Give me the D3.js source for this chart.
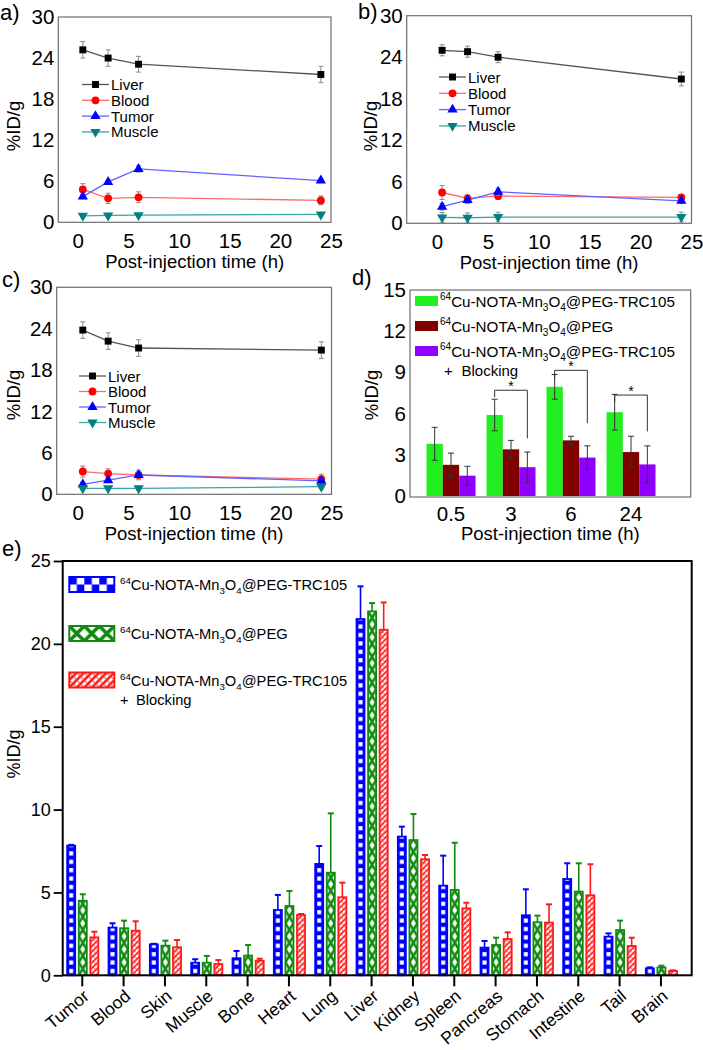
<!DOCTYPE html>
<html><head><meta charset="utf-8">
<script src="https://cdn.jsdelivr.net/npm/d3@7"></script>
<style>body{margin:0;background:#fff}svg{display:block;font-family:Arial,"Liberation Sans",sans-serif}</style>
</head><body><svg id="c" width="703" height="1050"></svg>
<script>
// ---------------- DATA ----------------
const times = [0.5, 3, 6, 24];
const lineSeries = ["Liver", "Blood", "Tumor", "Muscle"];
const lineYTicks = [0, 6, 12, 18, 24, 30];
const lineXTicks = [0, 5, 10, 15, 20, 25];

const aLiver = [25.2, 24.0, 23.1, 21.6],  aLiverErr = [1.2, 1.2, 1.15, 1.2];
const aBlood = [4.8, 3.5, 3.65, 3.2],     aBloodErr = [0.85, 0.75, 0.8, 0.65];
const aTumor = [3.75, 5.9, 7.8, 6.1],     aTumorErr = [0.3, 0.3, 0.45, 0.3];
const aMuscle = [0.95, 1.0, 1.05, 1.15],  aMuscleErr = [0.2, 0.2, 0.2, 0.2];

const bLiver = [25.0, 24.8, 24.0, 20.85], bLiverErr = [0.8, 0.8, 0.8, 1.0];
const bBlood = [4.45, 3.6, 3.95, 3.75],   bBloodErr = [1.0, 0.5, 0.5, 0.4];
const bTumor = [2.4, 3.35, 4.55, 3.25],   bTumorErr = [0.5, 0.5, 0.5, 0.4];
const bMuscle = [0.85, 0.8, 0.9, 0.9],    bMuscleErr = [0.7, 0.7, 0.7, 0.7];

const cLiver = [23.8, 22.2, 21.2, 20.9],  cLiverErr = [1.2, 1.2, 1.2, 1.2];
const cBlood = [3.3, 3.0, 2.8, 2.2],      cBloodErr = [0.8, 0.7, 0.7, 0.7];
const cTumor = [1.45, 2.05, 2.8, 1.95],   cTumorErr = [0.3, 0.3, 0.3, 0.3];
const cMuscle = [0.87, 0.87, 0.87, 1.1],  cMuscleErr = [0.2, 0.2, 0.2, 0.3];

const dGroups = ["0.5", "3", "6", "24"];
const dYTicks = [0, 3, 6, 9, 12, 15];
const dTargeted = [3.8, 5.9, 7.95, 6.1],     dTargetedErr = [1.2, 1.15, 0.9, 1.3];
const dNonTargeted = [2.27, 3.4, 4.05, 3.2], dNonTargetedErr = [0.85, 0.65, 0.3, 1.15];
const dBlocking = [1.48, 2.1, 2.8, 2.3],     dBlockingErr = [0.68, 1.1, 0.85, 1.35];
const sigGroups = ["3", "6", "24"];
const sigTop = [7.7, 9.15, 7.35], sigLeftEnd = [7.2, 8.55, 6.85], sigRightEnd = [4.2, 5.3, 4.7];

const legendLabels = ["^{64}Cu-NOTA-Mn_{3}O_{4}@PEG-TRC105", "^{64}Cu-NOTA-Mn_{3}O_{4}@PEG", "^{64}Cu-NOTA-Mn_{3}O_{4}@PEG-TRC105"];

const organs = ["Tumor","Blood","Skin","Muscle","Bone","Heart","Lung","Liver","Kidney","Spleen","Pancreas","Stomach","Intestine","Tail","Brain"];
const eYTicks = [0, 5, 10, 15, 20, 25];
const eTargeted =       [7.82, 2.88, 1.87, 0.76, 1.03, 3.94, 6.72, 21.5, 8.37, 5.41, 1.67, 3.62, 5.81, 2.33, 0.42];
const eTargetedErr =    [0.05, 0.26, 0.03, 0.21, 0.44, 0.91, 1.08, 1.97, 0.6, 1.81, 0.4, 1.57, 0.95, 0.2, 0.06];
const eNonTargeted =    [4.5, 2.84, 1.79, 0.76, 1.19, 4.18, 6.19, 21.96, 8.16, 5.15, 1.83, 3.2, 5.05, 2.73, 0.48];
const eNonTargetedErr = [0.39, 0.46, 0.3, 0.41, 0.64, 0.91, 3.58, 0.5, 1.57, 2.85, 0.44, 0.4, 1.71, 0.57, 0.1];
const eBlocking =       [2.29, 2.69, 1.69, 0.68, 0.88, 3.64, 4.71, 20.85, 7.0, 4.04, 2.19, 3.18, 4.83, 1.77, 0.26];
const eBlockingErr =    [0.34, 0.57, 0.44, 0.24, 0.12, 0.06, 0.88, 1.65, 0.26, 0.34, 0.4, 1.1, 1.87, 0.5, 0.04];

// ---------------- HELPERS ----------------
const svg = d3.select("#c");
svg.append("rect").attr("width", 703).attr("height", 1050).attr("fill", "#fff");
const defs = svg.append("defs");

function richText(sel, str, fs) {
  const parts = str.split(/(\^\{[^}]*\}|_\{[^}]*\})/).filter(s => s.length);
  let shift = 0;
  parts.forEach(p => {
    let txt = p, target = 0, size = fs;
    if (p.startsWith("^{")) { txt = p.slice(2, -1); target = -0.4 * fs; size = fs * 0.66; }
    else if (p.startsWith("_{")) { txt = p.slice(2, -1); target = 0.28 * fs; size = fs * 0.66; }
    sel.append("tspan").attr("dy", target - shift).attr("font-size", size).text(txt);
    shift = target;
  });
}

const styles = {
  Liver:  { color: "#000", line: "#555", sym: d3.symbolSquare, size: 48, rot: 0 },
  Blood:  { color: "#f00", line: "#ff6a6a", sym: d3.symbolCircle, size: 48, rot: 0 },
  Tumor:  { color: "#00f", line: "#6262ff", sym: d3.symbolTriangle, size: 46, rot: 0 },
  Muscle: { color: "#008080", line: "#3aa5a5", sym: d3.symbolTriangle, size: 46, rot: 180 }
};

function linePanel(cfg) {
  const x = d3.scaleLinear().domain(cfg.xDomain).range([cfg.left, cfg.right]);
  const y = d3.scaleLinear().domain([0, 30]).range([cfg.bottom, cfg.top]);
  const g = svg.append("g");
  g.append("rect").attr("x", cfg.left).attr("y", cfg.top)
    .attr("width", cfg.right - cfg.left).attr("height", cfg.bottom - cfg.top)
    .attr("fill", "none").attr("stroke", "#6e6e6e").attr("stroke-width", 1.2);
  const ya = g.append("g").attr("transform", `translate(${cfg.left},0)`)
    .call(d3.axisLeft(y).tickValues(lineYTicks).tickSize(0).tickPadding(4));
  ya.select(".domain").remove();
  ya.attr("font-family", null).attr("font-size", 20.5);
  const xa = g.append("g").attr("transform", `translate(0,${cfg.bottom})`)
    .call(d3.axisBottom(x).tickValues(lineXTicks).tickSize(0).tickPadding(cfg.xPad));
  xa.select(".domain").remove();
  xa.attr("font-family", null).attr("font-size", 20.5);
  g.append("text").attr("x", (cfg.left + cfg.right) / 2).attr("y", cfg.titleY)
    .attr("text-anchor", "middle").attr("font-size", 18.5).text("Post-injection time (h)");
  g.append("text").attr("transform", `translate(${cfg.yTitleX},${cfg.yTitleCY}) rotate(-90)`)
    .attr("text-anchor", "middle").attr("font-size", 18.5).text("%ID/g");
  g.append("text").attr("x", cfg.labelX).attr("y", cfg.labelY).attr("font-size", 22).text(cfg.label);

  cfg.series.forEach(s => {
    const st = styles[s.name];
    const pts = times.map((t, i) => ({ t, v: s.values[i], e: s.errors[i] }));
    g.append("path").datum(pts).attr("fill", "none").attr("stroke", st.line).attr("stroke-width", 1.3)
      .attr("d", d3.line().x(d => x(d.t)).y(d => y(d.v)));
    const eb = g.append("g").attr("stroke", "#8a8a8a").attr("stroke-width", 1);
    pts.forEach(d => {
      eb.append("line").attr("x1", x(d.t)).attr("x2", x(d.t)).attr("y1", y(d.v - d.e)).attr("y2", y(d.v + d.e));
      [d.v - d.e, d.v + d.e].forEach(v => eb.append("line").attr("x1", x(d.t) - 2.5).attr("x2", x(d.t) + 2.5).attr("y1", y(v)).attr("y2", y(v)));
    });
    g.selectAll(null).data(pts).enter().append("path")
      .attr("d", d3.symbol().type(st.sym).size(st.size))
      .attr("transform", d => `translate(${x(d.t)},${y(d.v)}) rotate(${st.rot})`)
      .attr("fill", st.color);
  });
  lineSeries.forEach((name, i) => {
    const st = styles[name];
    const yy = cfg.legY + i * cfg.legStep;
    g.append("line").attr("x1", cfg.legX).attr("x2", cfg.legX + 27).attr("y1", yy).attr("y2", yy)
      .attr("stroke", st.line).attr("stroke-width", 1.3);
    g.append("path").attr("d", d3.symbol().type(st.sym).size(st.size))
      .attr("transform", `translate(${cfg.legX + 13.5},${yy}) rotate(${st.rot})`).attr("fill", st.color);
    g.append("text").attr("x", cfg.legX + 29).attr("y", yy + 5.5).attr("font-size", 15).text(name);
  });
}

linePanel({ left: 58.3, right: 331, top: 17, bottom: 222.3, xDomain: [-1.92, 25], xPad: 11,
  titleY: 268, yTitleX: 20, yTitleCY: 126, label: "a)", labelX: 0, labelY: 20,
  legX: 82, legY: 84.5, legStep: 15.8,
  series: [{ name: "Liver", values: aLiver, errors: aLiverErr }, { name: "Blood", values: aBlood, errors: aBloodErr },
           { name: "Tumor", values: aTumor, errors: aTumorErr }, { name: "Muscle", values: aMuscle, errors: aMuscleErr }] });
linePanel({ left: 406.7, right: 691.5, top: 15.7, bottom: 223.3, xDomain: [-2.98, 25], xPad: 11,
  titleY: 269, yTitleX: 377, yTitleCY: 126, label: "b)", labelX: 358, labelY: 19,
  legX: 439, legY: 77, legStep: 16.3,
  series: [{ name: "Liver", values: bLiver, errors: bLiverErr }, { name: "Blood", values: bBlood, errors: bBloodErr },
           { name: "Tumor", values: bTumor, errors: bTumorErr }, { name: "Muscle", values: bMuscle, errors: bMuscleErr }] });
linePanel({ left: 56.7, right: 331.5, top: 287.3, bottom: 494.3, xDomain: [-2.07, 25], xPad: 11,
  titleY: 540, yTitleX: 20, yTitleCY: 395, label: "c)", labelX: 2, labelY: 287,
  legX: 79, legY: 376, legStep: 15.5,
  series: [{ name: "Liver", values: cLiver, errors: cLiverErr }, { name: "Blood", values: cBlood, errors: cBloodErr },
           { name: "Tumor", values: cTumor, errors: cTumorErr }, { name: "Muscle", values: cMuscle, errors: cMuscleErr }] });

// ---------------- PANEL D ----------------
(function () {
  const L = 410, R = 690.7, T = 290, B = 497;
  const x = d3.scaleBand().domain(dGroups).range([421, 661]);
  const xs = d3.scaleBand().domain([0, 1, 2]).range([-24.5, 24.5]);
  const y = d3.scaleLinear().domain([0, 15]).range([496, 290]);
  const g = svg.append("g");
  const colors = ["#22ee22", "#800000", "#8f00ff"];
  const vals = [dTargeted, dNonTargeted, dBlocking];
  const errs = [dTargetedErr, dNonTargetedErr, dBlockingErr];
  vals.forEach((arr, si) => {
    g.selectAll(null).data(arr).enter().append("rect")
      .attr("x", (d, i) => x(dGroups[i]) + x.bandwidth() / 2 + xs(si))
      .attr("width", xs.bandwidth()).attr("y", d => y(d)).attr("height", d => y(0) - y(d))
      .attr("fill", colors[si]);
  });
  const eb = g.append("g").attr("stroke", "#333").attr("stroke-width", 1);
  vals.forEach((arr, si) => arr.forEach((v, i) => {
    const cx = x(dGroups[i]) + x.bandwidth() / 2 + xs(si) + xs.bandwidth() / 2;
    const e = errs[si][i];
    eb.append("line").attr("x1", cx).attr("x2", cx).attr("y1", y(v - e)).attr("y2", y(v + e));
    [v - e, v + e].forEach(vv => eb.append("line").attr("x1", cx - 3).attr("x2", cx + 3).attr("y1", y(vv)).attr("y2", y(vv)));
  }));
  sigGroups.forEach((grp, k) => {
    const c0 = x(grp) + x.bandwidth() / 2 + xs(0) + xs.bandwidth() / 2;
    const c2 = x(grp) + x.bandwidth() / 2 + xs(2) + xs.bandwidth() / 2;
    g.append("path").attr("fill", "none").attr("stroke", "#333").attr("stroke-width", 1)
      .attr("d", `M${c0},${y(sigLeftEnd[k])}V${y(sigTop[k])}H${c2}V${y(sigRightEnd[k])}`);
    g.append("text").attr("x", (c0 + c2) / 2).attr("y", y(sigTop[k]) + 1).attr("text-anchor", "middle")
      .attr("font-size", 14).text("*");
  });
  g.append("rect").attr("x", L).attr("y", T).attr("width", R - L).attr("height", B - T)
    .attr("fill", "none").attr("stroke", "#6e6e6e").attr("stroke-width", 1.2);
  const ya = g.append("g").attr("transform", `translate(${L},0)`)
    .call(d3.axisLeft(y).tickValues(dYTicks).tickSize(0).tickPadding(4));
  ya.select(".domain").remove();
  ya.attr("font-family", null).attr("font-size", 20.5);
  const xa = g.append("g").attr("transform", `translate(0,${B})`)
    .call(d3.axisBottom(x).tickSize(0).tickPadding(9));
  xa.select(".domain").remove();
  xa.attr("font-family", null).attr("font-size", 20.5);
  g.append("text").attr("x", (L + R) / 2).attr("y", 540).attr("text-anchor", "middle").attr("font-size", 18.5).text("Post-injection time (h)");
  g.append("text").attr("transform", `translate(378,395) rotate(-90)`).attr("text-anchor", "middle").attr("font-size", 18.5).text("%ID/g");
  g.append("text").attr("x", 352).attr("y", 285).attr("font-size", 22).text("d)");
  const legY = [301, 326, 351];
  legendLabels.forEach((lab, i) => {
    g.append("rect").attr("x", 415).attr("y", legY[i] - 5).attr("width", 23).attr("height", 10).attr("fill", colors[i]);
    const t = g.append("text").attr("x", 440).attr("y", legY[i] + 5.5).attr("font-size", 15.2);
    richText(t, lab, 15.2);
  });
  g.append("text").attr("x", 444).attr("y", 375.5).attr("font-size", 15).text("+");
  g.append("text").attr("x", 461.5).attr("y", 375.5).attr("font-size", 15).text("Blocking");
})();

// ---------------- PANEL E ----------------
(function () {
  const L = 62.7, R = 691.7, T = 561, B = 975.3;
  const x = d3.scaleBand().domain(organs).range([61.6, 681.6]);
  const xs = d3.scaleBand().domain([0, 1, 2]).range([-16, 17]).paddingInner(0.15);
  const y = d3.scaleLinear().domain([0, 25]).range([B, T]);
  const g = svg.append("g");
  const colors = ["#0000ff", "#108a10", "#ff1a1a"];
  const vals = [eTargeted, eNonTargeted, eBlocking];
  const errs = [eTargetedErr, eNonTargetedErr, eBlockingErr];
  const sw = 1.8;
  const bw = xs.bandwidth() - sw;

  function makePattern(id, px, py, w, h, kind, color, big) {
    const p = defs.append("pattern").attr("id", id).attr("patternUnits", "userSpaceOnUse")
      .attr("x", px).attr("y", py).attr("width", w).attr("height", h);
    if (kind === 0) {
      if (big) {
        p.append("rect").attr("width", w).attr("height", h).attr("fill", "#fff");
        p.append("rect").attr("width", w / 2).attr("height", h / 2).attr("fill", color);
        p.append("rect").attr("x", w / 2).attr("y", h / 2).attr("width", w / 2).attr("height", h / 2).attr("fill", color);
      } else {
        p.append("rect").attr("width", w).attr("height", h).attr("fill", color);
        p.append("rect").attr("x", w / 2 - 2).attr("y", 2).attr("width", 4).attr("height", 4.2).attr("fill", "#fff");
      }
    } else if (kind === 1) {
      p.append("rect").attr("width", w).attr("height", h).attr("fill", "#fff");
      p.append("path").attr("d", `M0,0L${w},${h}M${w},0L0,${h}`).attr("stroke", color).attr("stroke-width", big ? 3.6 : 2.6);
    } else {
      p.append("rect").attr("width", w).attr("height", h).attr("fill", "#fff");
      p.append("path").attr("d", `M0,${h}L${w},0M${-w / 2},${h / 2}L${w / 2},${-h / 2}M${w / 2},${h * 1.5}L${w * 1.5},${h / 2}`)
        .attr("stroke", color).attr("stroke-width", big ? 2.6 : 1.7);
      p.append("path").attr("d", `M0,0L${w},${h}`).attr("stroke", color).attr("stroke-width", big ? 0.9 : 0.7);
    }
  }

  vals.forEach((arr, si) => {
    arr.forEach((v, i) => {
      const cx = x(organs[i]) + x.bandwidth() / 2 + xs(si) + xs.bandwidth() / 2;
      const x0 = cx - bw / 2;
      const id = `pat-${si}-${i}`;
      const ph = si === 0 ? 8.4 : si === 1 ? 13 : 5.5;
      const pw = si === 2 ? 5.5 : bw;
      makePattern(id, x0, B, pw, ph, si, colors[si], false);
      g.append("rect").attr("x", x0).attr("width", bw).attr("y", y(v)).attr("height", y(0) - y(v))
        .attr("fill", `url(#${id})`).attr("stroke", colors[si]).attr("stroke-width", sw);
      const e = errs[si][i];
      g.append("line").attr("x1", cx).attr("x2", cx).attr("y1", y(v)).attr("y2", y(v + e))
        .attr("stroke", colors[si]).attr("stroke-width", 1.6);
      g.append("line").attr("x1", cx - 3).attr("x2", cx + 3).attr("y1", y(v + e)).attr("y2", y(v + e))
        .attr("stroke", colors[si]).attr("stroke-width", 2);
    });
  });

  g.append("rect").attr("x", L).attr("y", T).attr("width", R - L).attr("height", B - T)
    .attr("fill", "none").attr("stroke", "#000").attr("stroke-width", 2);
  const ya = g.append("g").attr("transform", `translate(${L},0)`)
    .call(d3.axisLeft(y).tickValues(eYTicks).tickSize(9).tickPadding(3));
  ya.select(".domain").remove();
  ya.selectAll("line").attr("stroke-width", 1.8);
  ya.attr("font-family", null).attr("font-size", 18);
  const xa = g.append("g").attr("transform", `translate(0,${B})`)
    .call(d3.axisBottom(x).tickSize(11).tickFormat(""));
  xa.select(".domain").remove();
  xa.selectAll("line").attr("stroke-width", 2);
  g.selectAll(null).data(organs).enter().append("text")
    .attr("transform", d => `translate(${x(d) + x.bandwidth() / 2 + 8},${998}) rotate(-40)`)
    .attr("text-anchor", "end").attr("font-size", 17.5).text(d => d);
  g.append("text").attr("transform", `translate(20,754) rotate(-90)`).attr("text-anchor", "middle").attr("font-size", 18).text("%ID/g");
  g.append("text").attr("x", 2).attr("y", 556).attr("font-size", 22).text("e)");

  const legY = [584.5, 633.5, 680];
  legY.forEach((ly, i) => {
    const bx = 69.3, by = ly - 7.5, w = 45, h = 15;
    const id = `leg-${i}`;
    if (i === 0) makePattern(id, bx, by, 15, 15, 0, colors[0], true);
    if (i === 1) makePattern(id, bx, by, 15, 15, 1, colors[1], true);
    if (i === 2) makePattern(id, bx, by, 7.5, 7.5, 2, colors[2], true);
    g.append("rect").attr("x", bx).attr("y", by).attr("width", w).attr("height", h)
      .attr("fill", `url(#${id})`).attr("stroke", colors[i]).attr("stroke-width", 2);
    const t = g.append("text").attr("x", 120).attr("y", ly + 5.5).attr("font-size", 14.7);
    richText(t, legendLabels[i], 14.7);
  });
  g.append("text").attr("x", 120).attr("y", 705).attr("font-size", 14.7).text("+");
  g.append("text").attr("x", 136).attr("y", 705).attr("font-size", 14.7).text("Blocking");
})();
</script></body></html>
